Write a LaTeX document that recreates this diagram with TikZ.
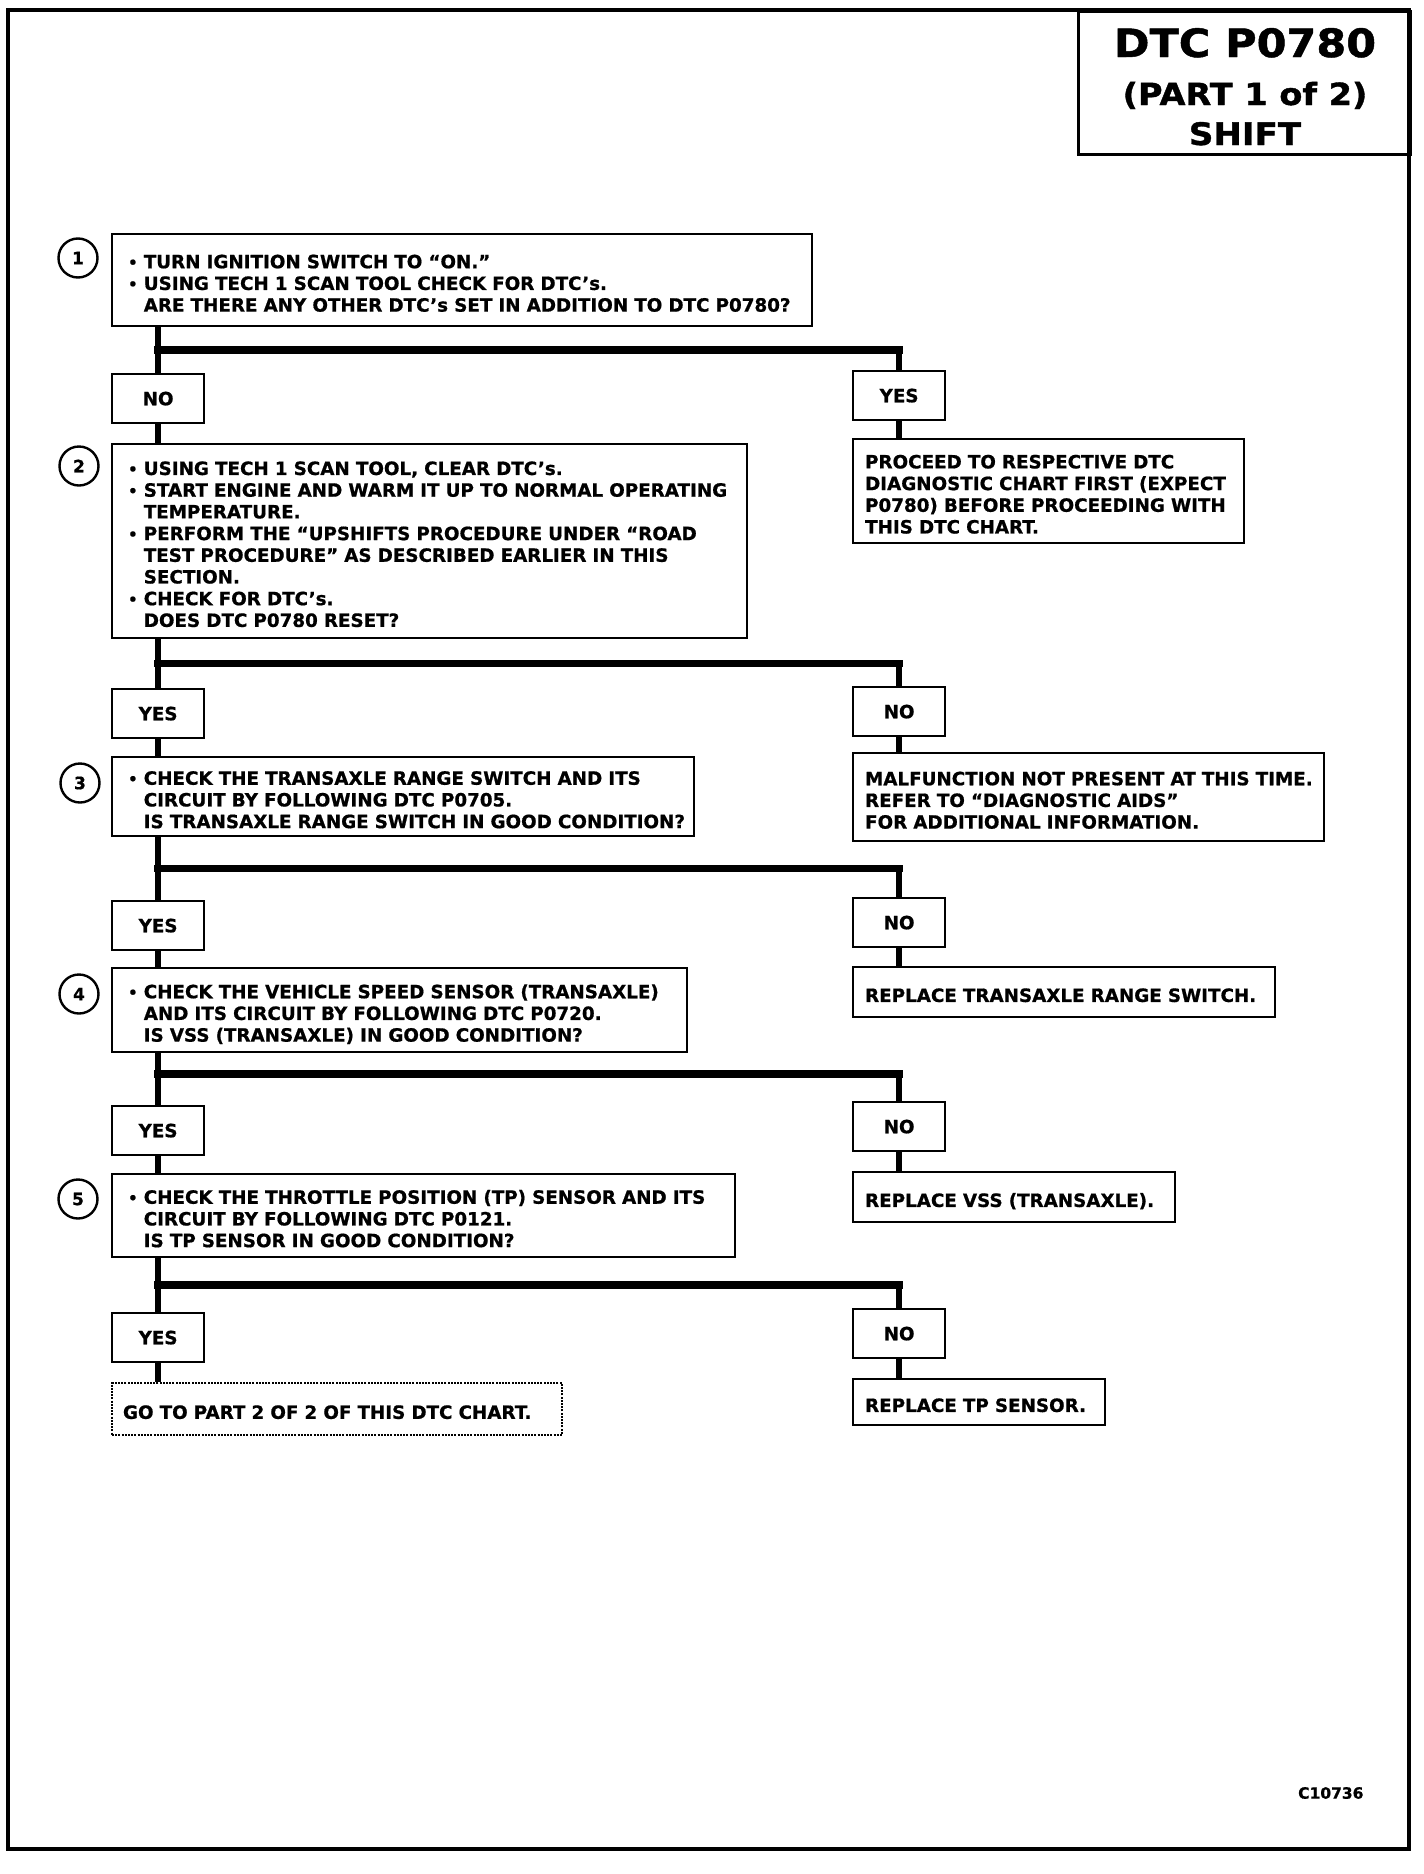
\documentclass[tikz,border=0pt]{standalone}
\usepackage{fontspec}
\setmainfont{DejaVu Sans}[BoldFeatures={FakeBold=0.8}]
\newfontfamily\titlefont{DejaVu Sans}[FakeStretch=1.1, BoldFeatures={FakeBold=1.2}]
\usetikzlibrary{calc}
\setlength{\parindent}{0pt}
\newcommand{\boxlines}[1]{\raisebox{-5.5pt}[\height][\depth]{\begin{tabular}{@{}l@{}}#1\end{tabular}}}
\newcommand{\bulmark}{\raisebox{0.5pt}{\fontsize{15}{15}\selectfont •}}
\newcommand{\bul}{\bulmark\ }
\newcommand{\nobul}{\phantom{\bulmark}\ }

\begin{document}
\begin{tikzpicture}[x=1pt, y=-1pt,
    font=\fontsize{18.3}{21.7}\selectfont\bfseries,
    stepbox/.style={draw, line width=2.2pt, anchor=north west, inner xsep=16pt, inner ysep=0pt, align=left},
    result/.style={stepbox, inner xsep=12pt},
    answer/.style={draw, line width=2.2pt, anchor=north west, minimum width=92pt, minimum height=49pt, inner sep=0pt},
    num/.style={circle, draw, line width=2.4pt, minimum size=39pt, inner sep=0pt, font=\fontsize{17}{17}\selectfont\bfseries},
    trunk/.style={line width=6pt},
    branch/.style={line width=7.5pt, line cap=rect}]
  \useasboundingbox (0,0) rectangle (1424,1874);

  % title block and frame
  \node[draw, line width=3pt, anchor=north west, minimum width=332pt, minimum height=143pt, inner sep=0pt] (title) at (1077,10) {};
  \node[anchor=base, font=\titlefont\fontsize{39}{39}\bfseries] (tline1) at (1245,57) {DTC P0780};
  \node[anchor=base, font=\titlefont\fontsize{30.5}{30.5}\bfseries] (tline2) at (1245,105) {(PART 1 of 2)};
  \node[anchor=base, font=\titlefont\fontsize{31}{31}\bfseries] (tline3) at (1245,145) {SHIFT};
  \draw[line width=4pt] (8,10) rectangle (1409,1849);

  % checks down the left side
  \node[stepbox, text width=668pt, minimum height=92pt] (b1) at (111,233) {\boxlines{%
    \bul TURN IGNITION SWITCH TO “ON.”\\
    \bul USING TECH 1 SCAN TOOL CHECK FOR DTC's.\\
    \nobul ARE THERE ANY OTHER DTC's SET IN ADDITION TO DTC P0780?}};
  \node[stepbox, text width=603pt, minimum height=194pt] (b2) at (111,443) {\boxlines{%
    \bul USING TECH 1 SCAN TOOL, CLEAR DTC's.\\
    \bul START ENGINE AND WARM IT UP TO NORMAL OPERATING\\
    \nobul TEMPERATURE.\\
    \bul PERFORM THE “UPSHIFTS PROCEDURE UNDER “ROAD\\
    \nobul TEST PROCEDURE” AS DESCRIBED EARLIER IN THIS\\
    \nobul SECTION.\\
    \bul CHECK FOR DTC's.\\
    \nobul DOES DTC P0780 RESET?}};
  \node[stepbox, text width=550pt, minimum height=79pt] (b3) at (111,756) {\boxlines{%
    \bul CHECK THE TRANSAXLE RANGE SWITCH AND ITS\\
    \nobul CIRCUIT BY FOLLOWING DTC P0705.\\
    \nobul IS TRANSAXLE RANGE SWITCH IN GOOD CONDITION?}};
  \node[stepbox, text width=543pt, minimum height=84pt] (b4) at (111,967) {\boxlines{%
    \bul CHECK THE VEHICLE SPEED SENSOR (TRANSAXLE)\\
    \nobul AND ITS CIRCUIT BY FOLLOWING DTC P0720.\\
    \nobul IS VSS (TRANSAXLE) IN GOOD CONDITION?}};
  \node[stepbox, text width=591pt, minimum height=83pt] (b5) at (111,1173) {\boxlines{%
    \bul CHECK THE THROTTLE POSITION (TP) SENSOR AND ITS\\
    \nobul CIRCUIT BY FOLLOWING DTC P0121.\\
    \nobul IS TP SENSOR IN GOOD CONDITION?}};
  \node[stepbox, inner xsep=11pt, text width=428pt, minimum height=52pt, line width=2pt, dash pattern=on 2pt off 1.2pt] (go) at (111,1382) {\boxlines{GO TO PART 2 OF 2 OF THIS DTC CHART.}};

  % step numbers
  \node[num] (n1) at (78,258) {1};
  \node[num] (n2) at (79,466) {2};
  \node[num] (n3) at (80,783) {3};
  \node[num] (n4) at (79,994) {4};
  \node[num] (n5) at (78,1199) {5};

  % answers
  \node[answer] (no1) at (111,373) {NO};
  \node[answer] (yes1) at (852,370) {YES};
  \node[answer] (yes2) at (111,688) {YES};
  \node[answer] (no2) at (852,686) {NO};
  \node[answer] (yes3) at (111,900) {YES};
  \node[answer] (no3) at (852,897) {NO};
  \node[answer] (yes4) at (111,1105) {YES};
  \node[answer] (no4) at (852,1101) {NO};
  \node[answer] (yes5) at (111,1312) {YES};
  \node[answer] (no5) at (852,1308) {NO};

  % results on the right
  \node[result, text width=367pt, minimum height=104pt] (r1) at (852,438) {\boxlines{%
    PROCEED TO RESPECTIVE DTC\\
    DIAGNOSTIC CHART FIRST (EXPECT\\
    P0780) BEFORE PROCEEDING WITH\\
    THIS DTC CHART.}};
  \node[result, text width=447pt, minimum height=88pt] (r2) at (852,752) {\boxlines{%
    MALFUNCTION NOT PRESENT AT THIS TIME.\\
    REFER TO “DIAGNOSTIC AIDS”\\
    FOR ADDITIONAL INFORMATION.}};
  \node[result, text width=398pt, minimum height=50pt] (r3) at (852,966) {\boxlines{REPLACE TRANSAXLE RANGE SWITCH.}};
  \node[result, text width=298pt, minimum height=50pt] (r4) at (852,1171) {\boxlines{REPLACE VSS (TRANSAXLE).}};
  \node[result, text width=228pt, minimum height=46pt] (r5) at (852,1378) {\boxlines{REPLACE TP SENSOR.}};

  \node[anchor=east, font=\fontsize{15.5}{15.5}\selectfont\bfseries] (code) at (1367,1793) {C10736};

  % connectors
  \coordinate (k1) at ($(b1.south -| no1.north)!0.5!(no1.north)$);
  \coordinate (k2) at ($(b2.south -| yes2.north)!0.5!(yes2.north)$);
  \coordinate (k3) at ($(b3.south -| yes3.north)!0.5!(yes3.north)$);
  \coordinate (k4) at ($(b4.south -| yes4.north)!0.4!(yes4.north)$);
  \coordinate (k5) at ($(b5.south -| yes5.north)!0.5!(yes5.north)$);

  \draw[trunk] (b1.south -| no1.north) -- (no1.north);
  \draw[trunk] (no1.south) -- (b2.north -| no1.south);
  \draw[branch] (k1) -- (k1 -| yes1.north);
  \draw[trunk] (k1 -| yes1.north) -- (yes1.north);
  \draw[trunk] (yes1.south) -- (r1.north -| yes1.south);

  \draw[trunk] (b2.south -| yes2.north) -- (yes2.north);
  \draw[trunk] (yes2.south) -- (b3.north -| yes2.south);
  \draw[branch] (k2) -- (k2 -| no2.north);
  \draw[trunk] (k2 -| no2.north) -- (no2.north);
  \draw[trunk] (no2.south) -- (r2.north -| no2.south);

  \draw[trunk] (b3.south -| yes3.north) -- (yes3.north);
  \draw[trunk] (yes3.south) -- (b4.north -| yes3.south);
  \draw[branch] (k3) -- (k3 -| no3.north);
  \draw[trunk] (k3 -| no3.north) -- (no3.north);
  \draw[trunk] (no3.south) -- (r3.north -| no3.south);

  \draw[trunk] (b4.south -| yes4.north) -- (yes4.north);
  \draw[trunk] (yes4.south) -- (b5.north -| yes4.south);
  \draw[branch] (k4) -- (k4 -| no4.north);
  \draw[trunk] (k4 -| no4.north) -- (no4.north);
  \draw[trunk] (no4.south) -- (r4.north -| no4.south);

  \draw[trunk] (b5.south -| yes5.north) -- (yes5.north);
  \draw[trunk] (yes5.south) -- (go.north -| yes5.south);
  \draw[branch] (k5) -- (k5 -| no5.north);
  \draw[trunk] (k5 -| no5.north) -- (no5.north);
  \draw[trunk] (no5.south) -- (r5.north -| no5.south);
\end{tikzpicture}
\end{document}
